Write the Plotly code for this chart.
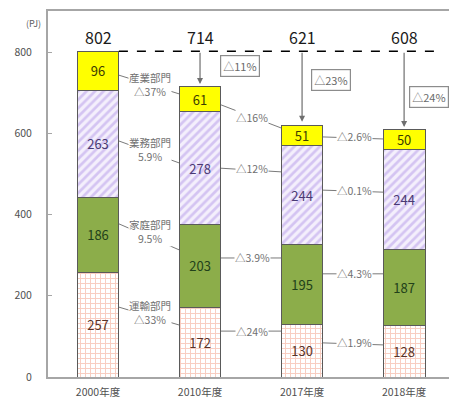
import plotly.graph_objects as go

# Energy consumption by sector (PJ)
years = ["2000年度", "2010年度", "2017年度", "2018年度"]
sectors = ["産業部門", "業務部門", "家庭部門", "運輸部門"]
industry = [96, 61, 51, 50]
commercial = [263, 278, 244, 244]
household = [186, 203, 195, 187]
transport = [257, 172, 130, 128]
totals = [802, 714, 621, 608]
total_change = ["△11%", "△23%", "△24%"]

# change rates between consecutive years, per sector
chg_industry = ["△37%", "△16%", "△2.6%"]
chg_commercial = ["5.9%", "△12%", "△0.1%"]
chg_household = ["9.5%", "△3.9%", "△4.3%"]
chg_transport = ["△33%", "△24%", "△1.9%"]

FONT = "Noto Sans CJK JP"
BAR_W = 0.41
xs = list(range(len(years)))

fig = go.Figure()

outline = dict(color="#5a5a5a", width=1)
common = dict(x=xs, width=BAR_W, textposition="inside",
              insidetextanchor="middle", textangle=0, constraintext="none")
fig.add_trace(go.Bar(
    y=transport, name=sectors[3], text=transport,
    marker=dict(color="white", line=outline,
                pattern=dict(shape="+", fgcolor="#f29a82", bgcolor="white",
                             size=5, solidity=0.35)),
    textfont=dict(size=13, color="#5a3328", family=FONT), **common,
))
fig.add_trace(go.Bar(
    y=household, name=sectors[2], text=household,
    marker=dict(color="#8cad4a", line=outline),
    textfont=dict(size=13, color="#22411a", family=FONT), **common,
))
fig.add_trace(go.Bar(
    y=commercial, name=sectors[1], text=commercial,
    marker=dict(color="#efe8fb", line=outline,
                pattern=dict(shape="/", fgcolor="#b39ae8", bgcolor="#f4effc",
                             size=6, solidity=0.45)),
    textfont=dict(size=13, color="#4a3a74", family=FONT), **common,
))
fig.add_trace(go.Bar(
    y=industry, name=sectors[0], text=industry,
    marker=dict(color="#ffff00", line=outline),
    textfont=dict(size=13, color="#3d3d00", family=FONT), **common,
))

shapes = []
annotations = []

# dashed reference line at the 2000 total
shapes.append(dict(type="line", xref="x", yref="y",
                   x0=BAR_W / 2, x1=3.33, y0=totals[0], y1=totals[0],
                   line=dict(color="black", width=1.5, dash="dash")))

# total values above each bar
for i, t in enumerate(totals):
    annotations.append(dict(x=i, y=837, xref="x", yref="y", text=str(t),
                            showarrow=False,
                            font=dict(size=16, color="#1a1a1a", family=FONT)))

# arrows from the reference line down to each later total, with boxed change
box_pos = [(1.39, 765), (2.28, 730), (3.24, 690)]
for k in range(1, len(totals)):
    annotations.append(dict(x=k, y=totals[k], xref="x", yref="y",
                            ax=k, ay=totals[0], axref="x", ayref="y",
                            text="", showarrow=True, arrowhead=2,
                            arrowsize=1, arrowwidth=1.2, arrowcolor="#6f6f6f",
                            standoff=3))
    bx, by = box_pos[k - 1]
    annotations.append(dict(x=bx, y=by, xref="x", yref="y",
                            text=total_change[k - 1], showarrow=False,
                            bordercolor="#8c8c8c", borderwidth=1.2, borderpad=2,
                            bgcolor="white",
                            font=dict(size=11, color="#6a6a6a", family=FONT)))

# sector change labels with connector lines between bars
# (left y, right y, label y) for each gap
conn = {
    "ind": [(743, 697, 719), (670, 613, 640), (591, 586, 591)],
    "com": [(581, 527, 559), (514, 505, 514), (460, 455, 458)],
    "hou": [(377, 313, 357), (293, 293, 293), (254, 254, 254)],
    "tra": [(172, 128, 160), (113, 113, 113), (84, 79, 84)],
}
labels = {"ind": chg_industry, "com": chg_commercial,
          "hou": chg_household, "tra": chg_transport}
names = {"ind": sectors[0], "com": sectors[1],
         "hou": sectors[2], "tra": sectors[3]}

for key in ["ind", "com", "hou", "tra"]:
    for g in range(3):
        ya, yb, yl = conn[key][g]
        shapes.append(dict(type="line", xref="x", yref="y",
                           x0=g + BAR_W / 2, x1=g + 1 - BAR_W / 2,
                           y0=ya, y1=yb,
                           line=dict(color="#7a7a7a", width=1), layer="above"))
        txt = labels[key][g]
        if g == 0:
            txt = names[key] + "<br>" + txt
        annotations.append(dict(x=g + 0.51, y=yl, xref="x", yref="y",
                                text=txt, showarrow=False, bgcolor="white",
                                borderpad=0,
                                font=dict(size=10.5, color="#707070",
                                          family=FONT)))

# unit label
annotations.append(dict(x=-0.012, y=0.99, xref="paper", yref="paper",
                        text="(PJ)", showarrow=False, xanchor="right",
                        font=dict(size=9, color="#606060", family=FONT)))

fig.update_layout(
    width=449, height=403,
    margin=dict(l=48, r=0, t=11, b=26),
    barmode="stack",
    showlegend=False,
    plot_bgcolor="white", paper_bgcolor="white",
    font=dict(family=FONT),
    shapes=shapes, annotations=annotations,
    xaxis=dict(range=[-0.49, 3.44], tickvals=xs, ticktext=years,
               showgrid=False, zeroline=False,
               showline=True, linecolor="#a6a6a6", linewidth=2, mirror=True,
               ticks="", ticklabelstandoff=4,
               tickfont=dict(size=10.5, color="#505050", family=FONT)),
    yaxis=dict(range=[0, 901], tickvals=[0, 200, 400, 600, 800],
               showgrid=False, zeroline=False,
               showline=True, linecolor="#a6a6a6", linewidth=2,
               ticks="inside", ticklen=4, tickcolor="#a6a6a6",
               ticklabelstandoff=12,
               tickfont=dict(size=10.5, color="#505050", family=FONT)),
)

fig.write_html("out.html")
